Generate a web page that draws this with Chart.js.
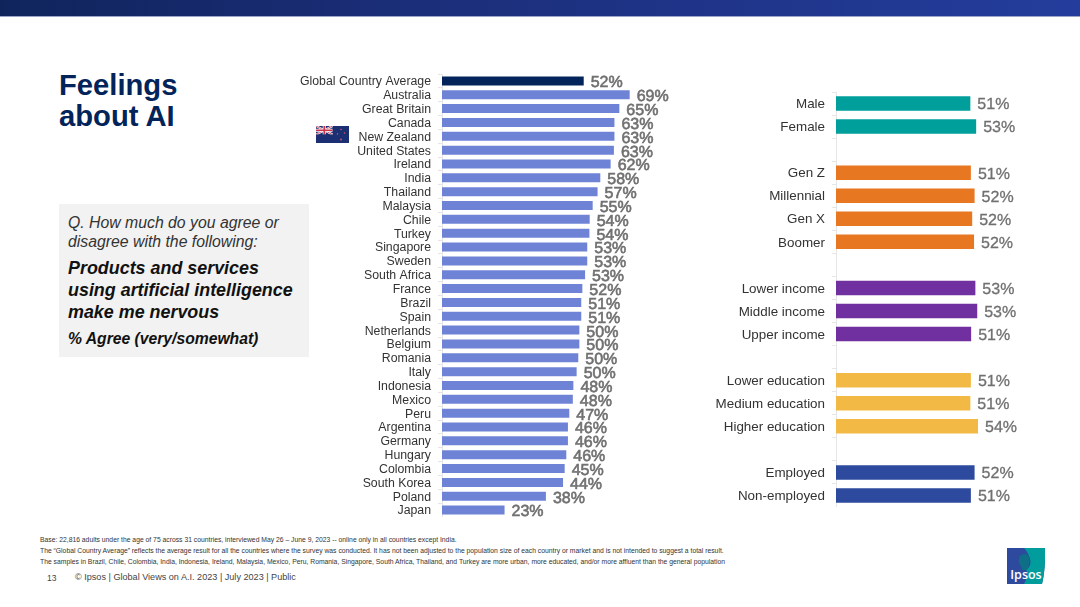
<!DOCTYPE html>
<html>
<head>
<meta charset="utf-8">
<title>Feelings about AI</title>
<script src="https://cdn.jsdelivr.net/npm/chart.js@4"></script>
<style>
  html, body { margin: 0; padding: 0; background: #fff; }
  body { position: relative; width: 1080px; height: 607px; overflow: hidden; font-family: "Liberation Sans", Arial, sans-serif; }
  canvas, .t, svg, .box, .topbar { position: absolute; }
  .t { white-space: nowrap; }
  .topbar { left: 0; top: 0; width: 1080px; height: 17px; background: linear-gradient(90deg, #10245c, #1b2e7a 40%, #243d9c); border-bottom: 1px solid #9aa5c8; box-sizing: border-box; }
  .title { left: 59px; color: #03245a; font-weight: bold; font-size: 29.2px; }
  .box { left: 59px; top: 204px; width: 250px; height: 153px; background: #f2f2f2; }
  .q { left: 68px; font-style: italic; font-size: 15.8px; color: #333; }
  .qb { left: 68px; font-style: italic; font-weight: bold; font-size: 17.9px; color: #111; }
  .note { left: 40px; font-size: 6.79px; color: #333; }
  .foot { font-size: 9.1px; color: #444; }
</style>
</head>
<body>
<div class="topbar"></div>

<div class="t title" style="top:69px">Feelings</div>
<div class="t title" style="top:100px">about AI</div>

<div class="box"></div>
<div class="t q" style="top:214px">Q. How much do you agree or</div>
<div class="t q" style="top:233px">disagree with the following:</div>
<div class="t qb" style="top:258px">Products and services</div>
<div class="t qb" style="top:280px">using artificial intelligence</div>
<div class="t qb" style="top:302px">make me nervous</div>
<div class="t qb" style="top:330px;font-size:15.7px">% Agree (very/somewhat)</div>

<!-- New Zealand flag next to the country label -->
<svg style="left:316px;top:126px" width="33" height="17" viewBox="0 0 66 34">
  <rect width="66" height="34" fill="#1b2f73"/>
  <path d="M0 0L33 17M33 0L0 17" stroke="#fff" stroke-width="4"/>
  <path d="M0 0L33 17M33 0L0 17" stroke="#c8344a" stroke-width="1.6"/>
  <path d="M16.5 0V17M0 8.5H33" stroke="#fff" stroke-width="6"/>
  <path d="M16.5 0V17M0 8.5H33" stroke="#c8344a" stroke-width="3.4"/>
  <rect y="17" width="33" height="17" fill="#1b2f73"/>
  <circle cx="50" cy="7" r="1.5" fill="#d8596c"/>
  <circle cx="43" cy="16" r="1.5" fill="#d8596c"/>
  <circle cx="57" cy="14" r="1.5" fill="#d8596c"/>
  <circle cx="50" cy="27" r="1.8" fill="#d8596c"/>
</svg>

<canvas id="countryChart" width="390" height="443" style="left:290px;top:74px"></canvas>
<canvas id="groupChart" width="360" height="415" style="left:700px;top:92px"></canvas>

<div class="t note" style="top:536px">Base: 22,816 adults under the age of 75 across 31 countries, interviewed May 26 – June 9, 2023 -- online only in all countries except India.</div>
<div class="t note" style="top:547px">The “Global Country Average” reflects the average result for all the countries where the survey was conducted. It has not been adjusted to the population size of each country or market and is not intended to suggest a total result.</div>
<div class="t note" style="top:558px">The samples in Brazil, Chile, Colombia, India, Indonesia, Ireland, Malaysia, Mexico, Peru, Romania, Singapore, South Africa, Thailand, and Turkey are more urban, more educated, and/or more affluent than the general population</div>
<div class="t foot" style="left:47px;top:573px;font-size:8.5px">13</div>
<div class="t foot" style="left:75px;top:572px">© Ipsos | Global Views on A.I. 2023 | July 2023 | Public</div>

<!-- Ipsos logo -->
<svg style="left:1007px;top:548px" width="38" height="36" viewBox="0 0 38 36">
  <path d="M0 0H38C38.5 12 37.5 26 35 36H0Z" fill="#2e4a9e"/>
  <path d="M17 0H38C38.5 12 37.5 26 35 36H17C20 30 22 26 19 22C23 20 25 14 22 8C21 5 19 2 17 0Z" fill="#009d9c"/>
  <path d="M18 6C13 6 11 10 12 14C13 18 15 19 15 22H20C20 20 22 19 22 16C23 12 23 6 18 6Z" fill="#0e6f86"/>
  <text x="19" y="31" text-anchor="middle" font-family="Open Sans, Liberation Sans" font-size="12.5" font-weight="600" fill="#fff">Ipsos</text>
</svg>

<script>
// Left chart: countries
const countryNames = ['Global Country Average', 'Australia', 'Great Britain', 'Canada', 'New Zealand', 'United States', 'Ireland', 'India', 'Thailand', 'Malaysia', 'Chile', 'Turkey', 'Singapore', 'Sweden', 'South Africa', 'France', 'Brazil', 'Spain', 'Netherlands', 'Belgium', 'Romania', 'Italy', 'Indonesia', 'Mexico', 'Peru', 'Argentina', 'Germany', 'Hungary', 'Colombia', 'South Korea', 'Poland', 'Japan'];
// bar lengths as measured on the picture
const countryValues = [52.1, 69, 65.2, 63.4, 63.4, 63.2, 62, 58.2, 57.2, 55.4, 54.3, 54.2, 53.4, 53.4, 52.6, 51.6, 51.2, 51.2, 50.5, 50.5, 50.1, 49.5, 48.3, 48.1, 46.8, 46.3, 46.3, 45.7, 45.1, 44.5, 38.2, 23];
// what the labels print
const countryPrinted = ['52%', '69%', '65%', '63%', '63%', '63%', '62%', '58%', '57%', '55%', '54%', '54%', '53%', '53%', '53%', '52%', '51%', '51%', '50%', '50%', '50%', '50%', '48%', '48%', '47%', '46%', '46%', '46%', '45%', '44%', '38%', '23%'];

// Right chart: demographics, empty names are the gaps between groups
const groupNames = ['Male', 'Female', '', 'Gen Z', 'Millennial', 'Gen X', 'Boomer', '', 'Lower income', 'Middle income', 'Upper income', '', 'Lower education', 'Medium education', 'Higher education', '', 'Employed', 'Non-employed'];
const groupValues = [50.8, 53, null, 51, 52.4, 51.5, 52.2, null, 52.7, 53.4, 51.1, null, 51, 50.8, 53.7, null, 52.4, 51];
const groupPrinted = ['51%', '53%', '', '51%', '52%', '52%', '52%', '', '53%', '53%', '51%', '', '51%', '51%', '54%', '', '52%', '51%'];

const NAVY = '#03245a', PERIWINKLE = '#6f83d6', TEAL = '#009f9b', ORANGE = '#e87722', PURPLE = '#7030a0', YELLOW = '#f2b944', BLUE = '#2e4a9e';
const countryColors = countryNames.map((n, i) => i === 0 ? NAVY : PERIWINKLE);
const groupColors = [TEAL, TEAL, TEAL, ORANGE, ORANGE, ORANGE, ORANGE, PURPLE, PURPLE, PURPLE, PURPLE, YELLOW, YELLOW, YELLOW, YELLOW, BLUE, BLUE, BLUE];

Chart.defaults.font.family = '"Liberation Sans", Arial, sans-serif';

// prints the percentage to the right of every bar, the thin stroke gives the semi-bold look
const valueLabels = {
  id: 'valueLabels',
  afterDatasetsDraw(chart, args, opts) {
    const ctx = chart.ctx;
    const meta = chart.getDatasetMeta(0);
    ctx.save();
    ctx.font = '16px "Liberation Sans"';
    ctx.textRendering = 'geometricPrecision';
    ctx.fillStyle = '#707070';
    ctx.strokeStyle = '#707070';
    ctx.lineWidth = opts.stroke;
    ctx.textAlign = 'left';
    ctx.textBaseline = 'middle';
    meta.data.forEach((bar, i) => {
      if (!opts.printed[i]) return;
      ctx.fillText(opts.printed[i], bar.x + 7, bar.y + opts.dy);
      ctx.strokeText(opts.printed[i], bar.x + 7, bar.y + opts.dy);
    });
    ctx.restore();
  }
};

function makeChart(id, names, values, colors, printed, cfg) {
  return new Chart(document.getElementById(id), {
    type: 'bar',
    data: {
      labels: names,
      datasets: [{ data: values, backgroundColor: colors, barPercentage: cfg.barPercentage, categoryPercentage: 1 }],
    },
    options: {
      indexAxis: 'y',
      responsive: false,
      animation: false,
      plugins: {
        legend: { display: false },
        tooltip: { enabled: false },
        valueLabels: { printed: printed, stroke: cfg.labelStroke, dy: cfg.labelDy },
      },
      scales: {
        x: { display: false, min: 0, max: cfg.max },
        y: {
          afterFit: (scale) => {
            scale.width = cfg.axisWidth;
            // otherwise the tick padding is also reserved above and below the axis
            scale.paddingTop = 0;
            scale.paddingBottom = 0;
          },
          border: { color: '#e6e6e6' },
          grid: { offset: true, drawOnChartArea: false, tickLength: 4, color: '#e6e6e6' },
          ticks: { autoSkip: false, color: '#333', padding: 7, labelOffset: 1, font: { size: cfg.tickSize } },
        },
      },
    },
    plugins: [valueLabels],
  });
}

makeChart('countryChart', countryNames, countryValues, countryColors, countryPrinted, {
  max: 87.5, axisWidth: 152, barPercentage: 0.65, tickSize: 12.3, labelStroke: 0.6, labelDy: 2,
});
makeChart('groupChart', groupNames, groupValues, groupColors, groupPrinted, {
  max: 84.7, axisWidth: 136, barPercentage: 0.63, tickSize: 13.4, labelStroke: 0.3, labelDy: 1.5,
});
</script>
</body>
</html>
